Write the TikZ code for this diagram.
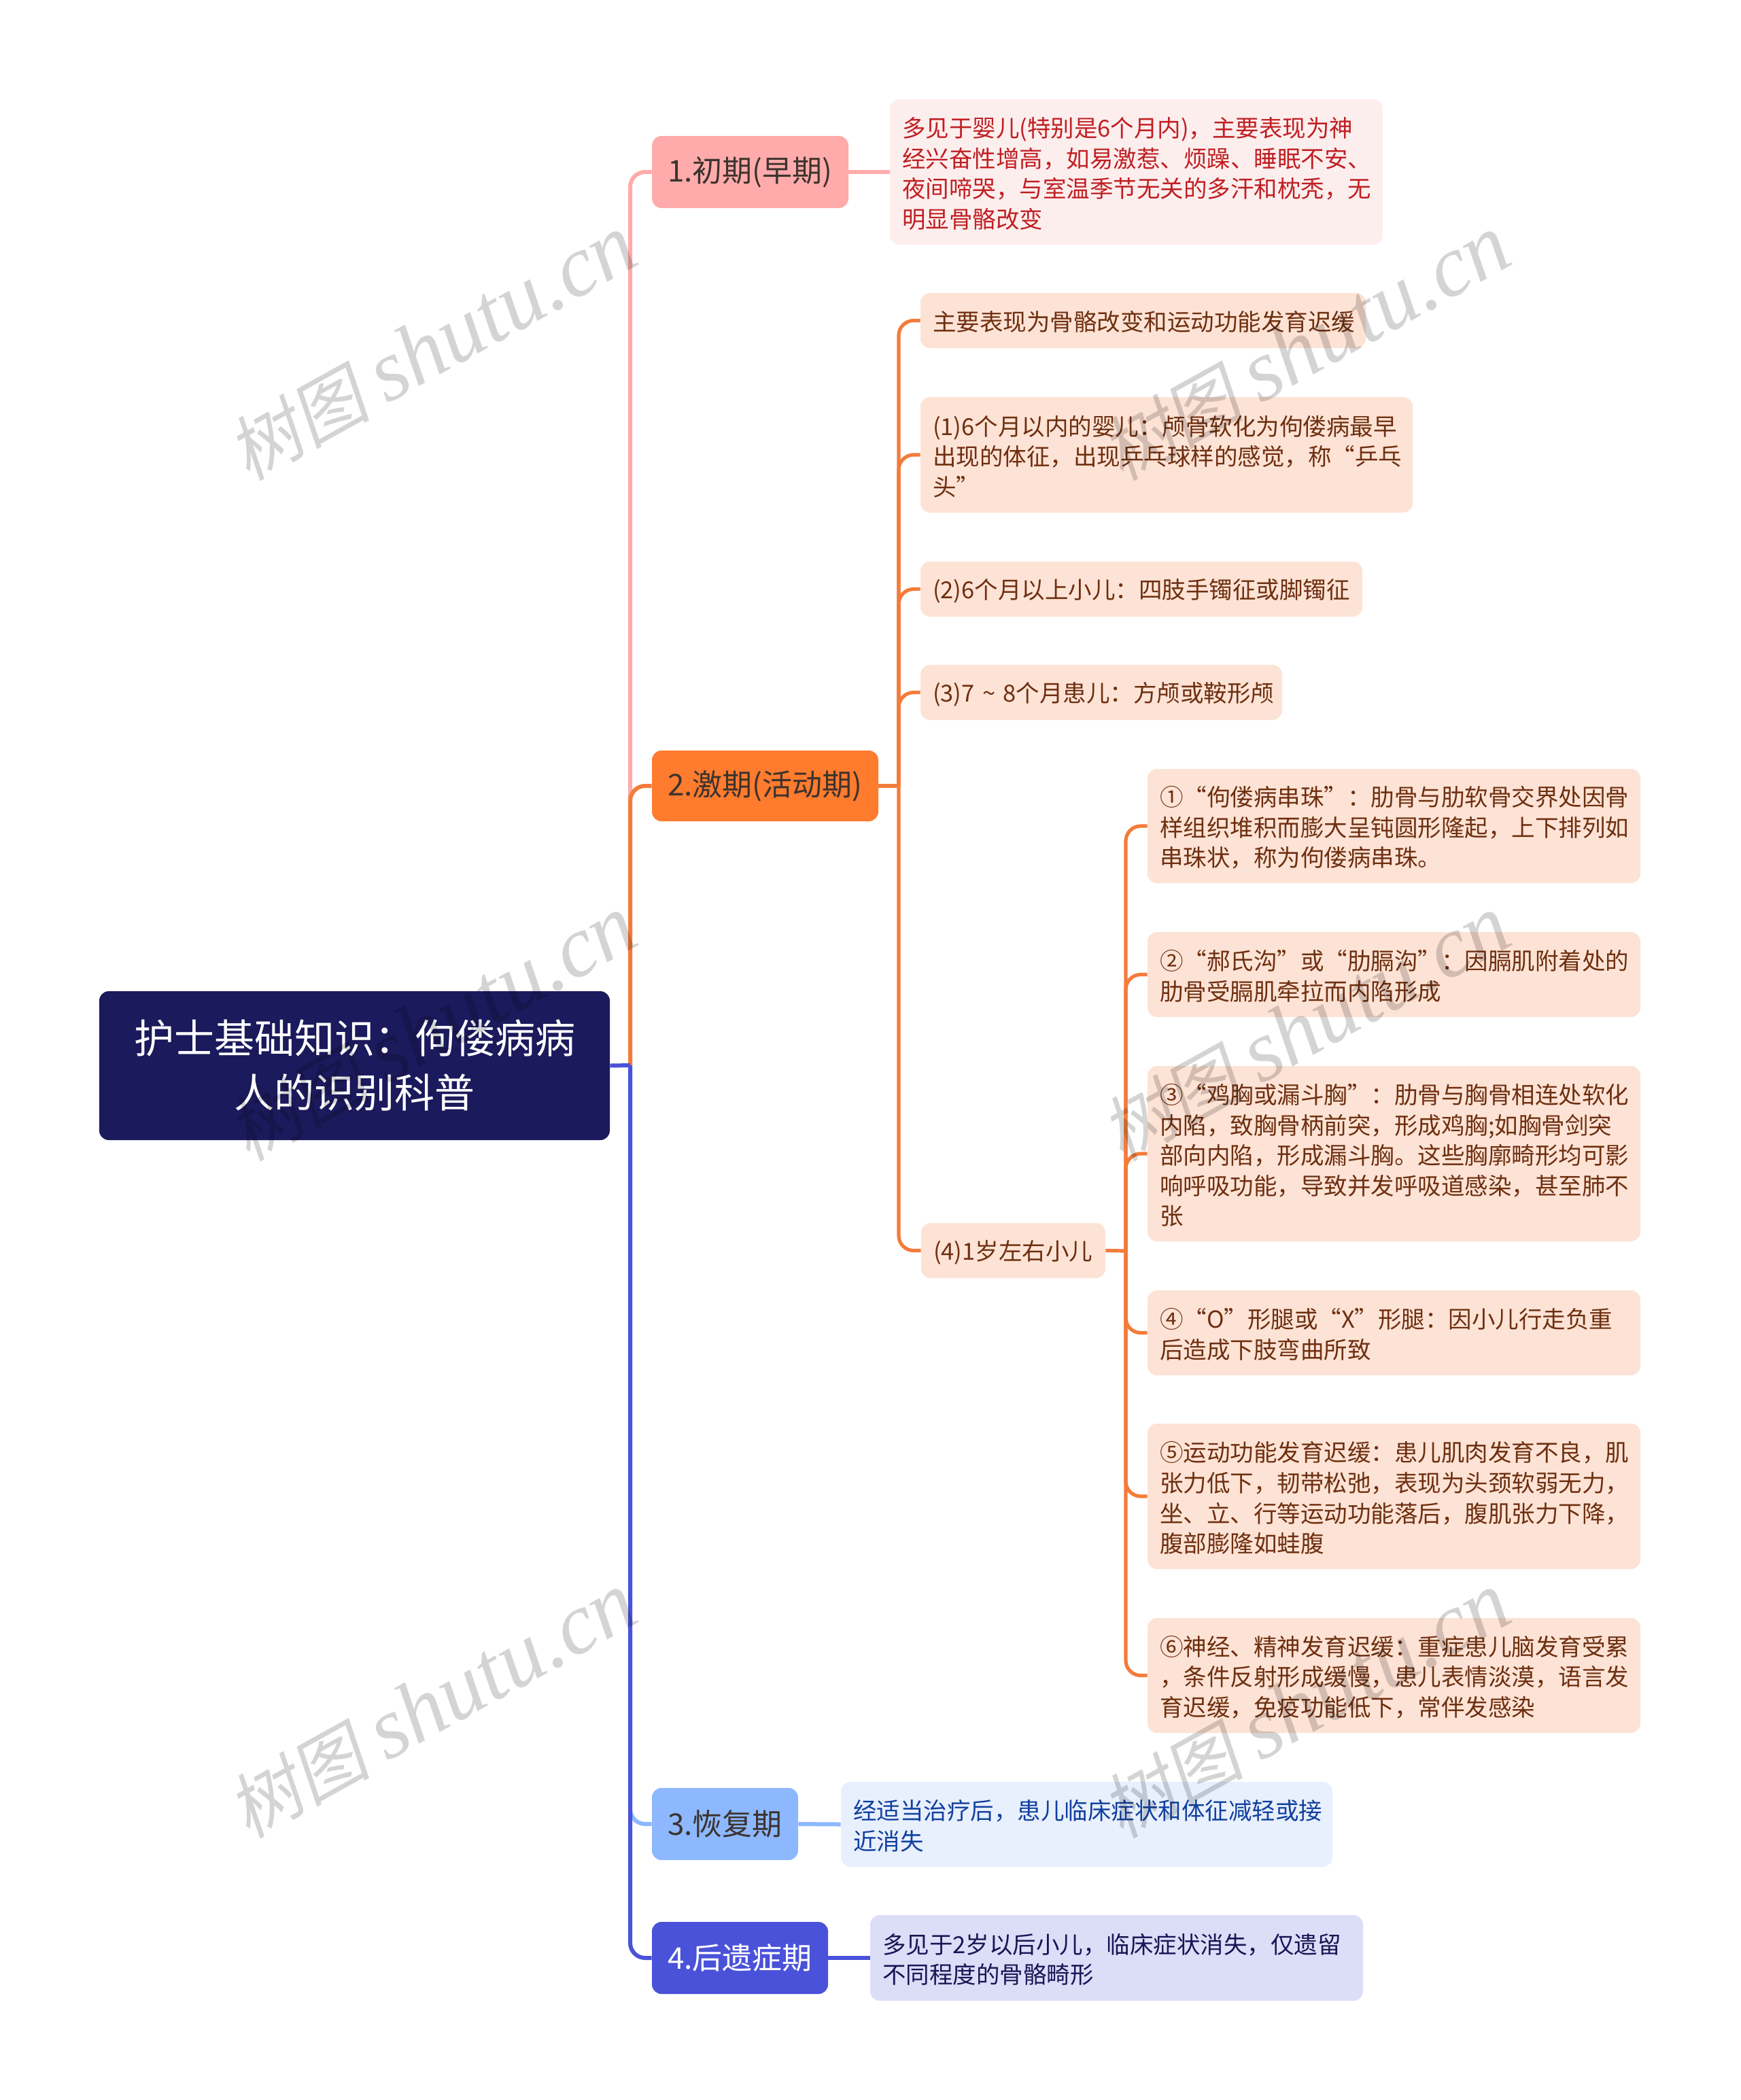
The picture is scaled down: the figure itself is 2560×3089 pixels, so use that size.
\documentclass[tikz,border=0pt]{standalone}
\usepackage{fontspec}
\setmainfont{Noto Sans CJK SC}
\newfontfamily\markfont{Liberation Serif}[Scale=1.22]
\newfontfamily\markcjk{Noto Sans CJK SC}[FakeSlant=0.18]
\definecolor{rootfill}{HTML}{1B1A5C}
\definecolor{linkpink}{HTML}{FFABAB}
\definecolor{linkorange}{HTML}{F47B3A}
\definecolor{linksky}{HTML}{8DB8FF}
\definecolor{linkblue}{HTML}{4A52D9}
\definecolor{fillpink}{HTML}{FDEEEE}
\definecolor{textpink}{HTML}{C01F22}
\definecolor{fillorange}{HTML}{FDE3D5}
\definecolor{textorange}{HTML}{6E2F10}
\definecolor{fillsky}{HTML}{E8EFFD}
\definecolor{textsky}{HTML}{10409E}
\definecolor{fillblue}{HTML}{DCDDF7}
\definecolor{textblue}{HTML}{161655}
\definecolor{branchorange}{HTML}{FF7B2E}
\definecolor{branchtext}{HTML}{3C332E}
\tikzset{
    boxnode/.style={rounded corners=7pt, inner ysep=0pt, anchor=center},
    leafbox/.style={boxnode, align=left, inner xsep=9pt, font=\fontsize{17.25}{22.3}\selectfont, execute at end node={\par\vspace*{-2.5pt}}},
    branchbox/.style={boxnode, align=center, inner xsep=0pt, font=\fontsize{22}{28}\selectfont},
    rootbox/.style={boxnode, align=center, inner xsep=0pt, fill=rootfill, text=white, font=\fontsize{29.5}{40}\selectfont},
    linkline/.style={draw=#1, line width=3pt, rounded corners=11pt},
    markbox/.style={rotate=29, text=black, opacity=0.17, font=\fontsize{52.5}{53}\selectfont}
}

\begin{document}
\begin{tikzpicture}[x=0.5pt, y=-0.5pt]
        \useasboundingbox (0,0) rectangle (2560,3089);

        % Spines
        \coordinate (spineroot) at (927,1567);
        \coordinate (spinestage) at (1322,1156);
        \coordinate (spineyear) at (1656,1840);

        % Root
        \node[rootbox, minimum width=375.5pt, minimum height=109.5pt] (root) at (521.5,1567.5) {护士基础知识：佝偻病病\\人的识别科普};

        % Branches
        \foreach \nm/\xa/\ya/\xb/\yb/\clr/\tclr/\txt in {
            early/959/200/1248/306/linkpink/branchtext/{1.初期(早期)},
            active/959/1104/1292/1208/branchorange/branchtext/{2.激期(活动期)},
            recover/959/2630/1174/2736/linksky/branchtext/{3.恢复期},
            sequela/959/2827/1218/2933/linkblue/white/{4.后遗症期}} {
            \pgfmathsetmacro{\boxw}{(\xb-\xa)/2}
            \pgfmathsetmacro{\boxh}{(\yb-\ya)/2}
            \node[branchbox, fill=\clr, text=\tclr, minimum width=\boxw pt, minimum height=\boxh pt] (\nm) at ({(\xa+\xb)/2},{(\ya+\yb)/2}) {\raisebox{-1.5pt}{\txt}};
        }

        % Text boxes
        \foreach \nm/\xa/\ya/\xb/\yb/\clr/\txt in {
            earlytext/1309/146/2034/360/pink/{多见于婴儿(特别是6个月内)，主要表现为神\\经兴奋性增高，如易激惹、烦躁、睡眠不安、\\夜间啼哭，与室温季节无关的多汗和枕秃，无\\明显骨骼改变},
            main/1354/431/2009/512/orange/{主要表现为骨骼改变和运动功能发育迟缓},
            skull/1354/584/2078/754/orange/{(1)6个月以内的婴儿：颅骨软化为佝偻病最早\\出现的体征，出现乒乓球样的感觉，称“乒乓\\头”},
            wrist/1354/826/2004/907/orange/{(2)6个月以上小儿：四肢手镯征或脚镯征},
            square/1354/978/1886/1059/orange/{(3)7~\textasciitilde{}~8个月患儿：方颅或鞍形颅},
            year/1355/1799/1626/1880/orange/{(4)1岁左右小儿},
            beads/1688/1131/2413/1299/orange/{①“佝偻病串珠”：肋骨与肋软骨交界处因骨\\样组织堆积而膨大呈钝圆形隆起，上下排列如\\串珠状，称为佝偻病串珠。},
            groove/1688/1371/2413/1496/orange/{②“郝氏沟”或“肋膈沟”：因膈肌附着处的\\肋骨受膈肌牵拉而内陷形成},
            chest/1688/1568/2413/1826/orange/{③“鸡胸或漏斗胸”：肋骨与胸骨相连处软化\\内陷，致胸骨柄前突，形成鸡胸;如胸骨剑突\\部向内陷，形成漏斗胸。这些胸廓畸形均可影\\响呼吸功能，导致并发呼吸道感染，甚至肺不\\张},
            legs/1688/1898/2413/2023/orange/{④“O”形腿或“X”形腿：因小儿行走负重\\后造成下肢弯曲所致},
            motor/1688/2094/2413/2308/orange/{⑤运动功能发育迟缓：患儿肌肉发育不良，肌\\张力低下，韧带松弛，表现为头颈软弱无力，\\坐、立、行等运动功能落后，腹肌张力下降，\\腹部膨隆如蛙腹},
            nerve/1688/2380/2413/2549/orange/{⑥神经、精神发育迟缓：重症患儿脑发育受累\\，条件反射形成缓慢，患儿表情淡漠，语言发\\育迟缓，免疫功能低下，常伴发感染},
            recovertext/1237/2621/1960/2746/sky/{经适当治疗后，患儿临床症状和体征减轻或接\\近消失},
            sequelatext/1280/2817/2005/2943/blue/{多见于2岁以后小儿，临床症状消失，仅遗留\\不同程度的骨骼畸形}} {
            \pgfmathsetmacro{\boxw}{(\xb-\xa)/2}
            \pgfmathsetmacro{\boxh}{(\yb-\ya)/2}
            \pgfmathsetmacro{\textw}{\boxw-18}
            \node[leafbox, fill=fill\clr, text=text\clr, text width=\textw pt, minimum height=\boxh pt] (\nm) at ({(\xa+\xb)/2},{(\ya+\yb)/2}) {\txt};
        }

        % Links
        \draw[linkline=linkpink] (spineroot) |- (early.west);
        \draw[linkline=linkpink] (early.east) -- (earlytext.west);
        \draw[linkline=linkorange] (spineroot) |- (active.west);
        \draw[linkline=linkorange] (active.east) -- (spinestage);
        \foreach \nm in {main,skull,wrist,square,year} {
            \draw[linkline=linkorange, line width=2.6pt] (spinestage) |- (\nm.west);
        }
        \draw[linkline=linkorange, line width=2.6pt] (year.east) -- (spineyear);
        \foreach \nm in {beads,groove,chest,legs,motor,nerve} {
            \draw[linkline=linkorange, line width=2.6pt] (spineyear) |- (\nm.west);
        }
        \draw[linkline=linksky] (spineroot) |- (recover.west);
        \draw[linkline=linksky] (recover.east) -- (recovertext.west);
        \draw[linkline=linkblue] (spineroot) |- (sequela.west);
        \draw[linkline=linkblue] (sequela.east) -- (sequelatext.west);
        \draw[linkline=linkblue] (root.east) -- (spineroot);

        % Watermarks
        \foreach \nm/\xa/\ya in {a/636/512, b/1921/512, c/636/1513, d/1921/1513, e/636/2509, f/1921/2509} {
            \node[markbox] (mark\nm) at (\xa,\ya) {{\markcjk 树图} {\markfont\itshape shutu.cn}};
        }
    \end{tikzpicture}
\end{document}
